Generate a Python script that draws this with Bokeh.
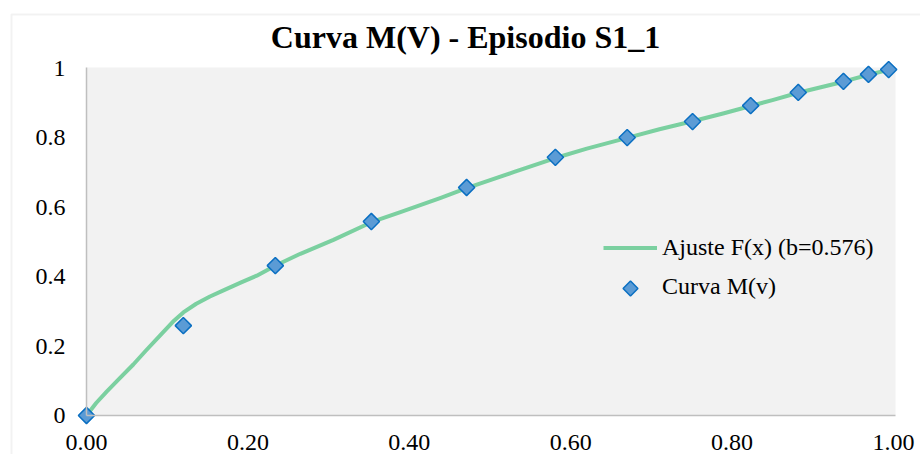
import math
from bokeh.plotting import figure
from bokeh.models import FixedTicker, Range1d, Legend, LegendItem, Label, BoxAnnotation
from bokeh.embed import file_html
from bokeh.resources import INLINE

title_text = "Curva M(V) - Episodio S1_1"
x_ticks = [0.0, 0.2, 0.4, 0.6, 0.8, 1.0]
x_tick_labels = ["0.00", "0.20", "0.40", "0.60", "0.80", "1.00"]
y_ticks = [0.0, 0.2, 0.4, 0.6, 0.8, 1.0]
y_tick_labels = ["0", "0.2", "0.4", "0.6", "0.8", "1"]

# Observed points: Curva M(v)
m_x = [0.000, 0.120, 0.234, 0.353, 0.471, 0.581, 0.670, 0.751, 0.823, 0.882, 0.938, 0.969, 0.994]
m_y = [0.000, 0.259, 0.432, 0.559, 0.657, 0.744, 0.801, 0.847, 0.893, 0.931, 0.963, 0.983, 0.997]

# Fitted curve: Ajuste F(x)
fit_x = [0.000, 0.012, 0.025, 0.041, 0.058, 0.074, 0.091, 0.107, 0.120, 0.136, 0.153,
         0.169, 0.191, 0.211, 0.235, 0.265, 0.306, 0.353, 0.389, 0.439, 0.471, 0.530,
         0.581, 0.620, 0.670, 0.710, 0.751, 0.790, 0.823, 0.850, 0.882, 0.938, 0.969, 0.994]
fit_y = [0.000, 0.036, 0.069, 0.107, 0.147, 0.188, 0.230, 0.270, 0.297, 0.322, 0.343,
         0.360, 0.383, 0.403, 0.433, 0.466, 0.506, 0.557, 0.586, 0.627, 0.655, 0.702,
         0.742, 0.769, 0.800, 0.825, 0.848, 0.871, 0.892, 0.909, 0.930, 0.962, 0.982, 0.996]

fit_label = "Ajuste F(x) (b=0.576)"
points_label = "Curva M(v)"

FONT = "Liberation Serif"
LINE_COLOR = "#7BD0A0"
PT_FILL = "#5B9BD5"
PT_LINE = "#0A6FC2"

# canvas / layout (pixels)
W, H = 920, 454
X0_PX, PX_PER_X = 86, 807.0      # x=0 position and scale
Y0_PX, PX_PER_Y = 415, 347.0     # y=0 position (from top) and scale
X_MAX, Y_MAX = 1.0025, 1.003     # extent of the grey plot area

x_range = Range1d(-X0_PX / PX_PER_X, (W - X0_PX) / PX_PER_X)
y_range = Range1d(-(H - Y0_PX) / PX_PER_Y, Y0_PX / PX_PER_Y)

p = figure(width=W, height=H, output_backend="svg", toolbar_location=None,
           x_range=x_range, y_range=y_range,
           min_border_left=0, min_border_right=0, min_border_top=0, min_border_bottom=0)

p.background_fill_color = "white"
p.border_fill_color = "white"
p.outline_line_color = None
p.grid.visible = False

# grey plot area
p.add_layout(BoxAnnotation(left=0, right=X_MAX, bottom=0, top=Y_MAX,
                           fill_color="#F2F2F2", fill_alpha=1, line_alpha=0, level="underlay"))
# outer chart-area frame (light grey); its right and bottom edges lie outside the canvas
p.add_layout(BoxAnnotation(left=(11 - X0_PX) / PX_PER_X, right=3.0,
                           top=(Y0_PX - 14) / PX_PER_Y, bottom=-3.0,
                           fill_alpha=0, line_color="#D4D4D4", line_width=2, level="underlay"))

# title
p.add_layout(Label(x=465, y=H - 36, x_units="screen", y_units="screen", text=title_text,
                   text_align="center", text_baseline="alphabetic", text_font=FONT,
                   text_font_size="32px", text_font_style="bold", text_color="black"))

for ax in (p.xaxis[0], p.yaxis[0]):
    ax.fixed_location = 0
    ax.axis_line_color = "#BFBFBF"
    ax.axis_line_width = 1.5
    ax.major_tick_line_color = None
    ax.minor_tick_line_color = None
    ax.major_tick_out = 0
    ax.major_tick_in = 0
    ax.major_label_text_font = FONT
    ax.major_label_text_font_size = "24px"
    ax.major_label_text_color = "black"

p.xaxis[0].bounds = (0, X_MAX)
p.xaxis[0].ticker = FixedTicker(ticks=x_ticks)
p.xaxis[0].major_label_overrides = dict(zip(x_ticks, x_tick_labels))
p.xaxis[0].major_label_standoff = 19
p.yaxis[0].bounds = (0, Y_MAX)
p.yaxis[0].ticker = FixedTicker(ticks=y_ticks)
p.yaxis[0].major_label_overrides = dict(zip(y_ticks, y_tick_labels))
p.yaxis[0].major_label_standoff = 21

r_fit = p.line(fit_x, fit_y, line_color=LINE_COLOR, line_width=4, line_join="round")
r_pts = p.scatter(m_x, m_y, marker="square", angle=math.pi / 4, size=11.5,
                  fill_color=PT_FILL, line_color=PT_LINE, line_width=1.5)

# legend: the point entry uses an invisible proxy; its rotated-square symbol is drawn on a pixel range
r_proxy = p.scatter([], [], marker="square", fill_alpha=0, line_alpha=0)
legend = Legend(items=[LegendItem(label=fit_label, renderers=[r_fit]),
                       LegendItem(label=points_label, renderers=[r_proxy])],
                location=(603, 154), padding=0, margin=0, spacing=12,
                glyph_width=54, glyph_height=27, label_height=27, label_standoff=5,
                border_line_color=None, background_fill_alpha=0,
                label_text_font=FONT, label_text_font_size="24px", label_text_color="black")
p.add_layout(legend)

p.extra_x_ranges["px"] = Range1d(0, W)
p.extra_y_ranges["px"] = Range1d(0, H)
p.scatter([630], [H - 288], x_range_name="px", y_range_name="px", marker="square",
          angle=math.pi / 4, size=10.5, fill_color=PT_FILL, line_color=PT_LINE, line_width=1.5)

open("out.html", "w").write(file_html(p, INLINE))
